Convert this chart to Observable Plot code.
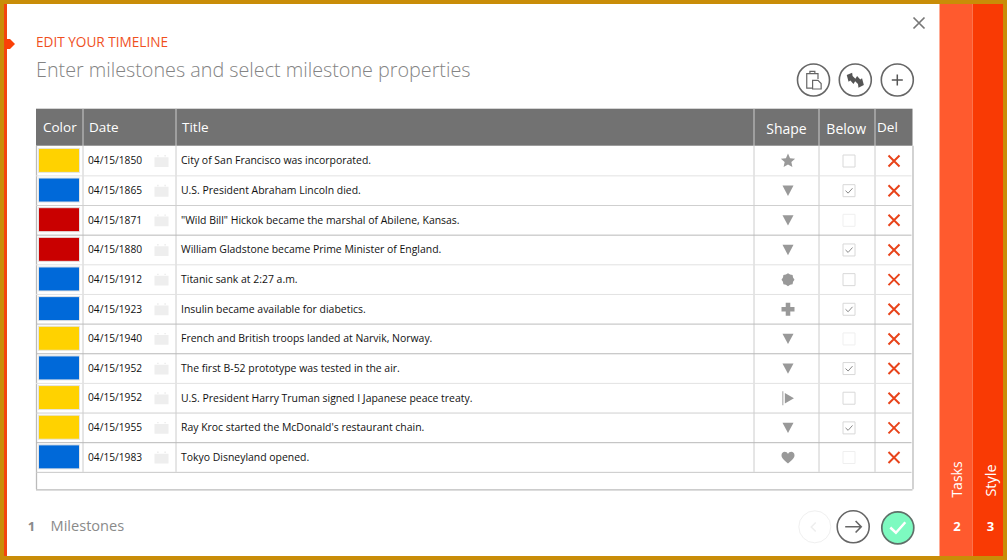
<!DOCTYPE html>
<html>
<head>
<meta charset="utf-8">
<style>html,body{margin:0;padding:0;background:#fff;overflow:hidden}svg{display:block}</style>
<script src="https://cdn.jsdelivr.net/npm/d3@7"></script>
<script src="https://cdn.jsdelivr.net/npm/@observablehq/plot@0.6"></script>
</head>
<body>
<script>
// ---- data ----
const dates = ["04/15/1850","04/15/1865","04/15/1871","04/15/1880","04/15/1912","04/15/1923","04/15/1940","04/15/1952","04/15/1952","04/15/1955","04/15/1983"];
const titles = [
  "City of San Francisco was incorporated.",
  "U.S. President Abraham Lincoln died.",
  "\"Wild Bill\" Hickok became the marshal of Abilene, Kansas.",
  "William Gladstone became Prime Minister of England.",
  "Titanic sank at 2:27 a.m.",
  "Insulin became available for diabetics.",
  "French and British troops landed at Narvik, Norway.",
  "The first B-52 prototype was tested in the air.",
  "U.S. President Harry Truman signed I Japanese peace treaty.",
  "Ray Kroc started the McDonald's restaurant chain.",
  "Tokyo Disneyland opened."
];
const colorNames = ["amber","cobalt","ruby","ruby","cobalt","cobalt","amber","cobalt","amber","amber","cobalt"];
const shapes = ["star","triangle","triangle","triangle","gear","plus","triangle","triangle","flag","triangle","heart"];
const below = [false,true,false,true,false,true,false,true,false,true,false];
const startHeaders = ["Color","Date","Title","Del"];
const middleHeaders = ["Shape","Below"];

const rows = dates.map((date,i)=>({row:i+.5,i,date,title:titles[i],swatch:colorNames[i],shape:shapes[i],below:below[i]}));

// ---- layout ----
const W=1007,H=560,rowTop=145.7,rowH=29.65;
const py=p=>(p-rowTop)/rowH;               // page pixel -> row units of the y scale
const font='"Open Sans",sans-serif';
const colX={left:36,color:82.5,date:175.5,title:753.5,shape:818.5,below:874.5,right:912.5};
const cx={swatch:59,dateText:87.5,cal:161,title:180.5,shape:787.5,check:848.5,del:893.5};
const startHeaderPos={Color:[42.5,127],Date:[88.5,127],Title:[181.5,127],Del:[876.5,127]};
const middleHeaderPos={Shape:[786,129],Below:[845.7,129]};

// ---- custom glyphs ----
const sym=f=>({draw(c,size){f(c,Math.sqrt(size/Math.PI))}});
const poly=(c,pts,k)=>{pts.forEach(([x,y],n)=>n?c.lineTo(x*k,y*k):c.moveTo(x*k,y*k));c.closePath()};
const glyph={
  star:sym((c,k)=>{const p=[];for(let n=0;n<10;n++){const R=n%2?.47:1,a=-Math.PI/2+n*Math.PI/5;p.push([R*Math.cos(a),R*Math.sin(a)])}poly(c,p,k)}),
  triangle:sym((c,k)=>poly(c,[[-.85,-.8],[.85,-.8],[0,.8]],k)),
  gear:sym((c,k)=>{const p=[];for(let n=0;n<16;n++){const R=n%2?.84:1,a=n*Math.PI/8;p.push([R*Math.cos(a),R*Math.sin(a)])}poly(c,p,k)}),
  plus:sym((c,k)=>poly(c,[[-.35,-1],[.35,-1],[.35,-.35],[1,-.35],[1,.35],[.35,.35],[.35,1],[-.35,1],[-.35,.35],[-1,.35],[-1,-.35],[-.35,-.35]],k)),
  flag:sym((c,k)=>{poly(c,[[-.8,-1],[-.67,-1],[-.67,1],[-.8,1]],k);poly(c,[[-.45,-.75],[.85,0],[-.45,.75]],k)}),
  heart:sym((c,k)=>{c.moveTo(0,.95*k);c.bezierCurveTo(-.5*k,.55*k,-1.05*k,.15*k,-1.05*k,-.35*k);c.bezierCurveTo(-1.05*k,-1.05*k,-.2*k,-1.1*k,0,-.55*k);c.bezierCurveTo(.2*k,-1.1*k,1.05*k,-1.05*k,1.05*k,-.35*k);c.bezierCurveTo(1.05*k,.15*k,.5*k,.55*k,0,.95*k);c.closePath()}),
  times:sym((c,k)=>{c.moveTo(-k,-k);c.lineTo(k,k);c.moveTo(k,-k);c.lineTo(-k,k)}),
  check:sym((c,k)=>{c.moveTo(-k,0);c.lineTo(-.25*k,.7*k);c.lineTo(k,-.7*k)}),
  box:sym((c,k)=>poly(c,[[-k,-k],[k,-k],[k,k],[-k,k]],1)),
  calendar:sym((c,k)=>{poly(c,[[-1,-.55],[1,-.55],[1,.85],[-1,.85]],k);poly(c,[[-.65,-.85],[-.4,-.85],[-.4,-.65],[-.65,-.65]],k);poly(c,[[.4,-.85],[.65,-.85],[.65,-.65],[.4,-.65]],k)}),
  clipboard:sym((c,k)=>{
    c.moveTo(-.15*k,.9*k);c.lineTo(-.75*k,.9*k);c.lineTo(-.75*k,-.7*k);c.lineTo(.5*k,-.7*k);c.lineTo(.5*k,-.1*k);
    c.moveTo(-.4*k,-.7*k);c.lineTo(-.4*k,-.95*k);c.lineTo(.15*k,-.95*k);c.lineTo(.15*k,-.7*k);
    c.moveTo(-.1*k,.05*k);c.lineTo(.5*k,.05*k);c.lineTo(.85*k,.4*k);c.lineTo(.85*k,1*k);c.lineTo(-.1*k,1*k);c.closePath()}),
  swap:sym((c,k)=>{
    poly(c,[[-.95,-.55],[-.35,-.8],[-.3,-.45],[.1,-.05],[-.2,.45],[-.55,.05],[-.75,.2]],k);
    poly(c,[[.95,.55],[.35,.85],[.3,.45],[-.1,.05],[.2,-.45],[.55,-.05],[.75,-.2]],k)}),
  plusThin:sym((c,k)=>{c.moveTo(-k,0);c.lineTo(k,0);c.moveTo(0,-k);c.lineTo(0,k)}),
  arrowRight:sym((c,k)=>{c.moveTo(-k,0);c.lineTo(k,0);c.moveTo(.3*k,-.72*k);c.lineTo(k,0);c.lineTo(.3*k,.72*k)}),
  chevronLeft:sym((c,k)=>{c.moveTo(.5*k,-k);c.lineTo(-.5*k,0);c.lineTo(.5*k,k)}),
  diamond:sym((c,k)=>poly(c,[[-1,-1],[0,-1],[1,0],[0,1],[-1,1]],k))
};

// ---- helper mark constructors ----
const box=(x1,x2,y1,y2,fill)=>Plot.rect([0],{x1:()=>x1,x2:()=>x2,y1:()=>py(y1),y2:()=>py(y2),fill,inset:0});
const label=(text,x,y,o={})=>Plot.text([text],{text:d=>d,x:()=>x,y:()=>py(y),textAnchor:"start",lineAnchor:"middle",fontFamily:font,...o});
const icon=(g,x,y,r,o)=>Plot.dot([0],{x:()=>x,y:()=>py(y),r,symbol:glyph[g],...o});
const ring=(x,y,o={})=>Plot.dot([0],{x:()=>x,y:()=>py(y),r:16,fill:"#fff",stroke:"#666",strokeWidth:1.6,...o});

const edges=[1,2,3,4,5,6,7,8,9,10,11];
const edgeStroke=["#e2e2e2","#cfcfcf","#b8b8b8","#e2e2e2","#e2e2e2","#bdbdbd","#b8b8b8","#e2e2e2","#cfcfcf","#b8b8b8","#c8c8c8"];
const faintBox=[2,6,10];

const chart=Plot.plot({
  width:W,height:H,margin:0,
  x:{domain:[0,W],range:[0,W],axis:null},
  y:{domain:[py(0),py(H)],range:[0,H],axis:null},
  color:{type:"ordinal",domain:["amber","cobalt","ruby"],range:["#ffd200","#0069d9","#c90000"]},
  style:{background:"#fff",fontFamily:font},
  marks:[
    // outer frame and side tabs
    box(0,W,0,4,"#c98d08"),box(0,W,556,H,"#c98d08"),box(0,4,0,H,"#c98d08"),box(1003,W,0,H,"#c98d08"),
    box(4,7,4,556,"#f2450f"),
    icon("diamond",9.5,43.5,5,{fill:"#fb4006"}),
    box(939.5,972.5,4,556,"#ff5a2e"),box(972.5,1003,4,556,"#f93a04"),
    label("Tasks",957,479,{rotate:-90,textAnchor:"middle",fontSize:14,fill:"#fff"}),
    label("Style",991,480,{rotate:-90,textAnchor:"middle",fontSize:14.5,fill:"#fff"}),
    label("2",956.5,526.5,{textAnchor:"middle",fontSize:13,fontWeight:700,fill:"#fff"}),
    label("3",990,526.5,{textAnchor:"middle",fontSize:13,fontWeight:700,fill:"#fff"}),

    // headings
    label("EDIT YOUR TIMELINE",35.5,42.5,{fontSize:13.6,fill:"#f0501e"}),
    label("Enter milestones and select milestone properties",35.5,70,{fontSize:19.75,fontWeight:300,fill:"#848484"}),
    icon("times",918.5,22.5,5.5,{stroke:"#777",strokeWidth:1.7}),

    // toolbar buttons
    ring(813,79.5),icon("clipboard",813,79.5,9,{stroke:"#666",strokeWidth:1.2,fill:"none"}),
    ring(854.8,79.5),icon("swap",854.8,79.5,9,{fill:"#555"}),
    ring(896.8,79.5),icon("plusThin",896.8,79.5,5.5,{stroke:"#555",strokeWidth:1.5}),

    // table frame and header
    box(36,912.5,108.7,145.7,"#727272"),
    Plot.ruleY([0],{y:()=>py(489.3),x1:colX.left,x2:colX.right,stroke:"#bbb",strokeWidth:1.3}),
    Plot.ruleX([colX.left,colX.right],{y1:py(145.7),y2:py(489.3),stroke:"#bbb",strokeWidth:1.3}),
    Plot.ruleX([colX.color,colX.date,colX.title,colX.shape,colX.below],{y1:py(108.7),y2:11,stroke:"#ccc",strokeWidth:1}),
    Plot.text(startHeaders,{x:d=>startHeaderPos[d][0],y:d=>py(startHeaderPos[d][1]),text:d=>d,textAnchor:"start",lineAnchor:"middle",fill:"#fff",fontSize:13.5,fontFamily:font}),
    Plot.text(middleHeaders,{x:d=>middleHeaderPos[d][0],y:d=>py(middleHeaderPos[d][1]),text:d=>d,textAnchor:"middle",lineAnchor:"middle",fill:"#fff",fontSize:14,fontFamily:font}),

    // row separators
    Plot.ruleY(edges,{x1:colX.left,x2:colX.right-1,stroke:(d,i)=>edgeStroke[i],strokeWidth:1}),

    // row contents
    Plot.rect(rows,{x1:cx.swatch-20.5,x2:cx.swatch+20.5,y1:d=>d.i+.09,y2:d=>d.i+.9,fill:"swatch",stroke:"#e4e4e4",strokeWidth:1}),
    Plot.text(rows,{x:cx.dateText,y:"row",text:"date",textAnchor:"start",lineAnchor:"middle",fontSize:10.2,fill:"#111",fontFamily:font}),
    Plot.dot(rows,{x:cx.cal,y:"row",r:7,symbol:glyph.calendar,fill:"#eeeeee"}),
    Plot.text(rows,{x:cx.title,y:"row",text:"title",textAnchor:"start",lineAnchor:"middle",fontSize:10.45,fill:"#111",fontFamily:font}),
    ...Object.entries({star:7.5,triangle:6.5,gear:6.5,plus:6.5,flag:7,heart:6.2}).map(([s,r])=>
      Plot.dot(rows.filter(d=>d.shape===s),{x:cx.shape,y:"row",r,symbol:glyph[s],fill:"#999"})),
    Plot.dot(rows,{x:cx.check,y:"row",r:6,symbol:glyph.box,fill:"#fff",stroke:d=>faintBox.includes(d.i)?"#efefef":"#d8d8d8",strokeWidth:1}),
    Plot.dot(rows.filter(d=>d.below),{x:cx.check,y:"row",r:3.5,symbol:glyph.check,stroke:"#888",strokeWidth:1}),
    Plot.dot(rows,{x:cx.del,y:"row",r:5.5,symbol:glyph.times,stroke:"#e8431a",strokeWidth:2}),

    // footer
    label("1",31,526,{textAnchor:"middle",fontSize:13,fontWeight:700,fill:"#8a8a8a"}),
    label("Milestones",50,526,{fontSize:14.6,fill:"#8a8a8a"}),
    ring(814.3,526.3,{stroke:"#f0f0f0",strokeWidth:1}),icon("chevronLeft",813,526.5,4.5,{stroke:"#eee",strokeWidth:1.5}),
    ring(852.7,526.3),icon("arrowRight",852.7,526.3,8,{stroke:"#666",strokeWidth:1.6}),
    ring(897.3,527.3,{fill:"#7dfac0",stroke:"#5f6f68",strokeWidth:1.7}),icon("check",897.3,527,7.5,{stroke:"#fff",strokeWidth:2.5})
  ]
});
document.body.appendChild(chart);
</script>
</body>
</html>
